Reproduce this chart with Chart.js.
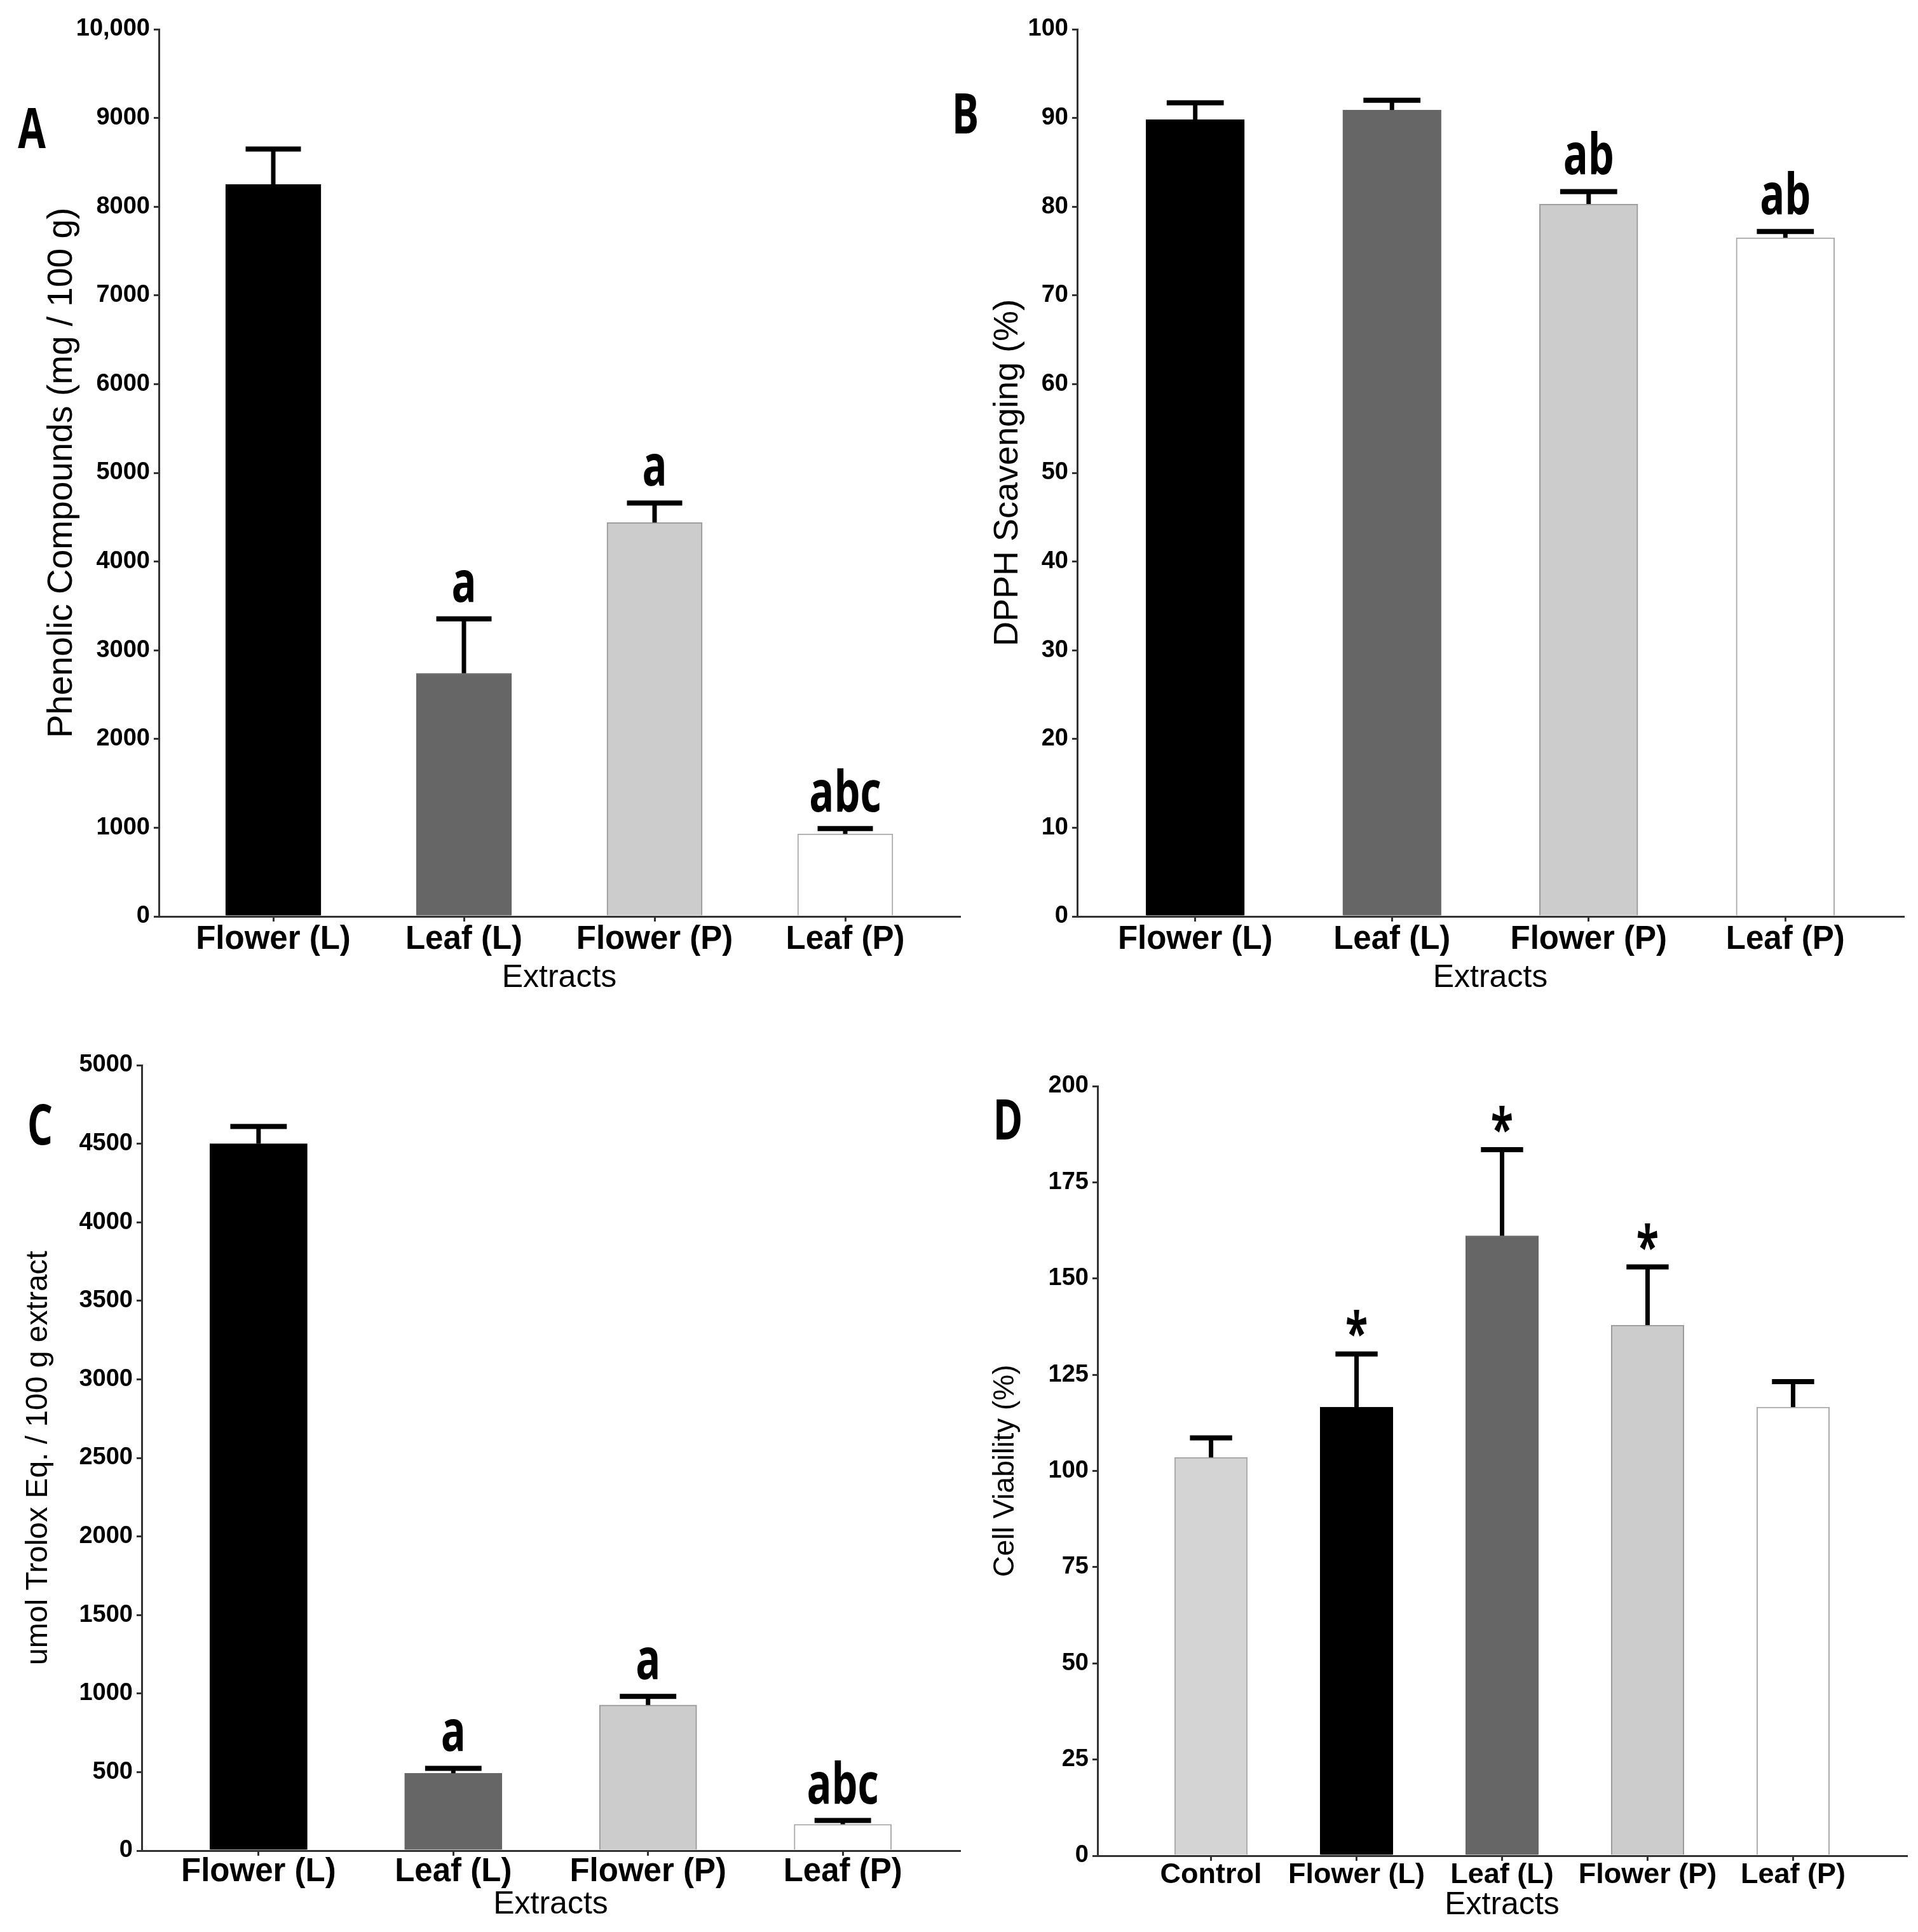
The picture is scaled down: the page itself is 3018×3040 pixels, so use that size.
<!DOCTYPE html>
<html>
<head>
<meta charset="utf-8">
<title>Extracts: phenolics, DPPH, Trolox, viability</title>
<script src="https://cdn.jsdelivr.net/npm/chart.js"></script>
<style>
  html, body { margin: 0; padding: 0; background: #fff; }
  #page { position: relative; width: 3018px; height: 3040px; background: #fff; }
  canvas { position: absolute; }
</style>
</head>
<body>
<div id="page">
  <canvas id="chartA" width="1540" height="1620" style="left:0px;top:0px"></canvas>
  <canvas id="chartB" width="1558" height="1620" style="left:1460px;top:0px"></canvas>
  <canvas id="chartC" width="1540" height="1420" style="left:0px;top:1620px"></canvas>
  <canvas id="chartD" width="1558" height="1420" style="left:1460px;top:1620px"></canvas>
</div>
<script>
// categories
const extracts = ['Flower (L)', 'Leaf (L)', 'Flower (P)', 'Leaf (P)'];
const extractsD = ['Control', 'Flower (L)', 'Leaf (L)', 'Flower (P)', 'Leaf (P)'];

// A - phenolic compounds
const phenolic = [8250, 2740, 4440, 930];
const phenolicSd = [400, 615, 220, 60];
const phenolicMarks = ['', 'a', 'a', 'abc'];
const phenolicTicks = ['0', '1000', '2000', '3000', '4000', '5000', '6000', '7000', '8000', '9000', '10,000'];

// B - DPPH scavenging
const dpph = [89.8, 90.9, 80.3, 76.5];
const dpphSd = [1.9, 1.1, 1.4, 0.7];
const dpphMarks = ['', '', 'ab', 'ab'];
const dpphTicks = ['0', '10', '20', '30', '40', '50', '60', '70', '80', '90', '100'];

// C - trolox equivalents
const trolox = [4500, 493, 927, 168];
const troloxSd = [110, 31, 55, 24];
const troloxMarks = ['', 'a', 'a', 'abc'];
const troloxTicks = ['0', '500', '1000', '1500', '2000', '2500', '3000', '3500', '4000', '4500', '5000'];

// D - cell viability
const viability = [103.5, 116.6, 161.1, 137.9, 116.6];
const viabilitySd = [5.1, 13.8, 22.4, 15.1, 6.6];
const viabilityMarks = ['', '*', '*', '*', ''];
const viabilityTicks = ['0', '25', '50', '75', '100', '125', '150', '175', '200'];

const fillABC = ['#000000', '#666666', '#cccccc', '#ffffff'];
const edgeABC = ['#000000', '#666666', '#999999', '#aaaaaa'];
const fillD = ['#d4d4d4', '#000000', '#666666', '#cccccc', '#ffffff'];
const edgeD = ['#aaaaaa', '#000000', '#666666', '#999999', '#aaaaaa'];

Chart.defaults.font.family = "'Liberation Sans', Arial, sans-serif";
Chart.defaults.color = '#000';

// error bars, letters over bars and the panel letter
function overlay(p) {
    return {
        id: 'overlay',
        afterDatasetsDraw(chart) {
            const c = chart.ctx;
            const y = chart.scales.y;
            const bars = chart.getDatasetMeta(0).data;
            c.save();
            c.strokeStyle = '#000';
            c.fillStyle = '#000';
            bars.forEach((bar, i) => {
                const top = y.getPixelForValue(p.values[i] + p.sd[i]);
                const half = bar.width * 0.29;
                c.lineWidth = 7;
                c.beginPath(); c.moveTo(bar.x, bar.y); c.lineTo(bar.x, top); c.stroke();
                c.lineWidth = 8;
                c.beginPath(); c.moveTo(bar.x - half, top); c.lineTo(bar.x + half, top); c.stroke();
                if (p.marks[i]) {
                    c.font = '700 90px "Open Sans"';
                    const m = c.measureText(p.marks[i]);
                    c.save();
                    c.translate(bar.x, top - 26 - m.actualBoundingBoxDescent);
                    c.scale(0.72, 1);
                    c.textAlign = 'center';
                    c.textBaseline = 'alphabetic';
                    c.fillText(p.marks[i], 0, 0);
                    c.restore();
                }
            });
            c.font = '700 88px "Open Sans"';
            c.textAlign = 'center';
            c.textBaseline = 'alphabetic';
            c.translate(p.letterX, p.letterY);
            c.scale(0.72, 1);
            c.fillText(p.letter, 0, 0);
            c.restore();
        }
    };
}

function makePanel(id, p) {
    const canvas = document.getElementById(id);
    const ctx = canvas.getContext('2d');
    const n = p.labels.length;
    const plotWidth = canvas.width - p.yWidth - p.pad.left - p.pad.right;
    const slot = plotWidth / (n - 1 + 2 * p.edgeGap);
    return new Chart(ctx, {
        type: 'bar',
        data: {
            datasets: [{
                data: p.values.map((v, i) => ({x: i, y: v})),
                backgroundColor: p.fill,
                borderColor: p.edge,
                borderWidth: 2,
                barThickness: slot * 0.5,
            }]
        },
        options: {
            responsive: false,
            animation: false,
            events: [],
            layout: { padding: p.pad },
            plugins: { legend: { display: false }, tooltip: { enabled: false } },
            scales: {
                x: {
                    type: 'linear',
                    bounds: 'data',
                    min: -p.edgeGap,
                    max: n - 1 + p.edgeGap,
                    offset: false,
                    afterBuildTicks: s => { s.ticks = p.labels.map((_, i) => ({value: i})); },
                    afterFit: s => { s.height = p.xHeight; },
                    grid: { display: true, offset: false, drawOnChartArea: false, drawTicks: true, tickLength: 8, color: '#333', lineWidth: 3 },
                    border: { display: true, color: '#333', width: 3 },
                    ticks: {
                        autoSkip: false, maxRotation: 0, minRotation: 0,
                        padding: p.xPad, color: '#000',
                        font: { weight: 'bold', size: p.xFont, lineHeight: 1 },
                        callback: (v, i) => p.labels[i]
                    },
                    title: {
                        display: true, text: 'Extracts', color: '#000',
                        padding: { top: 0, bottom: 0 },
                        font: { size: 50 }
                    }
                },
                y: {
                    min: 0,
                    max: p.yMax,
                    afterFit: s => { s.width = p.yWidth; },
                    grid: { display: true, drawOnChartArea: false, drawTicks: true, tickLength: 8, color: '#333', lineWidth: 3 },
                    border: { display: true, color: '#333', width: 3 },
                    ticks: {
                        stepSize: p.yStep, autoSkip: false, padding: 6, color: '#000',
                        font: { weight: 'bold', size: 38 },
                        callback: (v, i) => p.yTicks[i]
                    },
                    title: {
                        display: true, text: p.yTitle, color: '#000',
                        padding: { top: p.yTitlePad, bottom: 0 },
                        font: { size: p.yTitleSize }
                    }
                }
            }
        },
        plugins: [overlay(p)]
    });
}

var chartA = makePanel('chartA', {
    labels: extracts, values: phenolic, sd: phenolicSd, marks: phenolicMarks, yTicks: phenolicTicks,
    fill: fillABC, edge: edgeABC, yMax: 10000, yStep: 1000,
    yTitle: 'Phenolic Compounds (mg / 100 g)', yTitleSize: 55, yTitlePad: 65,
    yWidth: 250, xHeight: 127, xFont: 51, xPad: 3, edgeGap: 0.6,
    pad: { top: 46, right: 30, bottom: 51, left: 0 },
    letter: 'A', letterX: 50, letterY: 233
});

var chartB = makePanel('chartB', {
    labels: extracts, values: dpph, sd: dpphSd, marks: dpphMarks, yTicks: dpphTicks,
    fill: fillABC, edge: edgeABC, yMax: 100, yStep: 10,
    yTitle: 'DPPH Scavenging (%)', yTitleSize: 54, yTitlePad: 94,
    yWidth: 235, xHeight: 127, xFont: 51, xPad: 3, edgeGap: 0.6,
    pad: { top: 46, right: 23, bottom: 51, left: 0 },
    letter: 'B', letterX: 59, letterY: 210
});

var chartC = makePanel('chartC', {
    labels: extracts, values: trolox, sd: troloxSd, marks: troloxMarks, yTicks: troloxTicks,
    fill: fillABC, edge: edgeABC, yMax: 5000, yStep: 500,
    yTitle: 'umol Trolox Eq. / 100 g extract', yTitleSize: 48, yTitlePad: 32,
    yWidth: 223, xHeight: 115, xFont: 51, xPad: 0, edgeGap: 0.6,
    pad: { top: 56, right: 30, bottom: 13, left: 0 },
    letter: 'C', letterX: 63, letterY: 181
});

var chartD = makePanel('chartD', {
    labels: extractsD, values: viability, sd: viabilitySd, marks: viabilityMarks, yTicks: viabilityTicks,
    fill: fillD, edge: edgeD, yMax: 200, yStep: 25,
    yTitle: 'Cell Viability (%)', yTitleSize: 46, yTitlePad: 95,
    yWidth: 267, xHeight: 108, xFont: 45, xPad: 0, edgeGap: 0.78,
    pad: { top: 89, right: 18, bottom: 12, left: 0 },
    letter: 'D', letterX: 126, letterY: 173
});
</script>
</body>
</html>
